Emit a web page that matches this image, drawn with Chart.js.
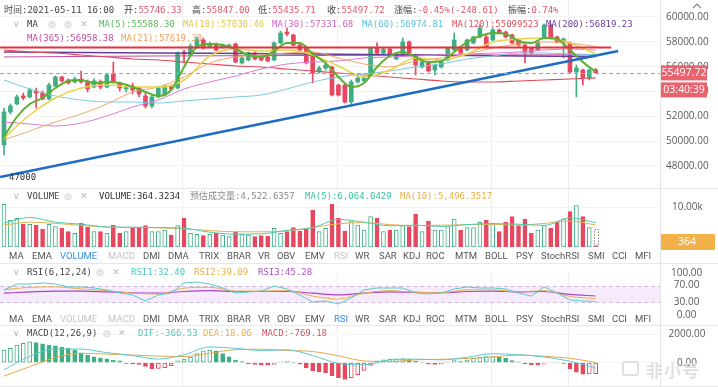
<!DOCTYPE html>
<html lang="zh-CN">
<head>
<meta charset="UTF-8">
<meta name="viewport" content="width=device-width, initial-scale=1.0">
<title>BTC 1H K线</title>
<script src="https://cdn.jsdelivr.net/npm/chart.js"></script>
<style>
  body { margin: 0; background: #fff; }
  #wrap { position: relative; width: 718px; height: 387px; overflow: hidden; background: #fff; }
  canvas { position: absolute; left: 0; }
  .t { position: absolute; white-space: nowrap; font: 9px "DejaVu Sans Mono", "Noto Sans CJK SC", monospace; line-height: 12px; color: #444; }
  .ic { position: absolute; font: 9px "DejaVu Sans", sans-serif; line-height: 12px; color: #b8b8b8; }
  .red { color: #e0566a; }
  .btn { position: absolute; font: 9.5px Roboto, sans-serif; line-height: 12px; color: #555; white-space: nowrap; }
  .btn.on { color: #3a8ee6; }
  .btn.off { color: #c4c4c4; }
  .hl { position: absolute; left: 0; width: 718px; height: 1px; background: #e8e8e8; }
  .vl { position: absolute; left: 660px; top: 0; width: 1px; height: 387px; background: #e3e3e3; }
  .wm { position: absolute; left: 646px; top: 357px; font: bold 17px "Noto Sans CJK SC", sans-serif; color: #e0e0e0; letter-spacing: 1px; }
  .logo { position: absolute; left: 622px; top: 361px; width: 17px; height: 15px; border: 2px solid #e0e0e0; border-radius: 3px; box-sizing: border-box; }
</style>
</head>
<body>
<div id="wrap">
  <canvas id="cMain" width="718" height="188" style="top:0"></canvas>
  <canvas id="cVol" width="718" height="75" style="top:188px"></canvas>
  <canvas id="cRsi" width="718" height="62" style="top:263px"></canvas>
  <canvas id="cMacd" width="718" height="62" style="top:325px"></canvas>

  <div class="hl" style="top:188px"></div>
  <div class="hl" style="top:263px"></div>
  <div class="hl" style="top:325px"></div>
  <div class="hl" style="top:386px"></div>
  <div class="vl"></div>

  <!-- main header -->
  <span class="t" style="left:4px;top:4px">时间:2021-05-11 16:00</span>
  <span class="t" style="left:124px;top:4px">开:<span class="red">55746.33</span></span>
  <span class="t" style="left:192px;top:4px">高:<span class="red">55847.00</span></span>
  <span class="t" style="left:258px;top:4px">低:<span class="red">55435.71</span></span>
  <span class="t" style="left:327px;top:4px">收:<span class="red">55497.72</span></span>
  <span class="t" style="left:394px;top:4px">涨幅:<span class="red">-0.45%(-248.61)</span></span>
  <span class="t" style="left:508px;top:4px">振幅:<span class="red">0.74%</span></span>

  <span class="ic" style="left:13px;top:18px">∨</span>
  <span class="t" style="left:27px;top:18px">MA</span>
  <span class="ic" style="left:48px;top:18px">◎</span>
  <span class="ic" style="left:64px;top:18px">◎</span>
  <span class="ic" style="left:80px;top:18px">✕</span>
  <span class="t" style="left:99px;top:18px;color:#5cb85c">MA(5):55588.30</span>
  <span class="t" style="left:183px;top:18px;color:#e2c84a">MA(10):57030.46</span>
  <span class="t" style="left:272px;top:18px;color:#d367c9">MA(30):57331.68</span>
  <span class="t" style="left:362px;top:18px;color:#5bc0de">MA(60):56974.81</span>
  <span class="t" style="left:452px;top:18px;color:#e05060">MA(120):55099523</span>
  <span class="t" style="left:546px;top:18px;color:#6a3d9a">MA(200):56819.23</span>
  <span class="t" style="left:27px;top:32px;color:#c04d9c">MA(365):56958.38</span>
  <span class="t" style="left:121px;top:32px;color:#f0a060">MA(21):57619.30</span>
  <span class="t" style="left:9px;top:171px;color:#333">47000</span>

  <!-- volume header -->
  <span class="ic" style="left:13px;top:190px">∨</span>
  <span class="t" style="left:27px;top:190px">VOLUME</span>
  <span class="ic" style="left:64px;top:190px">◎</span>
  <span class="ic" style="left:80px;top:190px">✕</span>
  <span class="t" style="left:99px;top:190px;color:#333">VOLUME:364.3234</span>
  <span class="t" style="left:190px;top:190px;color:#8a8a8a">预估成交量:4,522.6357</span>
  <span class="t" style="left:305px;top:190px;color:#3cc4a4">MA(5):6,064.0429</span>
  <span class="t" style="left:400px;top:190px;color:#e8b04a">MA(10):5,496.3517</span>

  <div id="rowA"></div>

  <!-- rsi header -->
  <span class="ic" style="left:13px;top:266px">∨</span>
  <span class="t" style="left:27px;top:266px">RSI(6,12,24)</span>
  <span class="ic" style="left:96px;top:266px">◎</span>
  <span class="ic" style="left:112px;top:266px">✕</span>
  <span class="t" style="left:131px;top:266px;color:#4ec8c0">RSI1:32.40</span>
  <span class="t" style="left:194px;top:266px;color:#e8b04a">RSI2:39.09</span>
  <span class="t" style="left:258px;top:266px;color:#b04cc8">RSI3:45.28</span>

  <div id="rowB"></div>

  <!-- macd header -->
  <span class="ic" style="left:13px;top:327px">∨</span>
  <span class="t" style="left:27px;top:327px">MACD(12,26,9)</span>
  <span class="ic" style="left:103px;top:327px">◎</span>
  <span class="ic" style="left:118px;top:327px">✕</span>
  <span class="t" style="left:138px;top:327px;color:#4ec8c0">DIF:-366.53</span>
  <span class="t" style="left:203px;top:327px;color:#e8b04a">DEA:18.06</span>
  <span class="t" style="left:262px;top:327px;color:#e05060">MACD:-769.18</span>

  <svg style="position:absolute;left:690px;top:1px" width="14" height="10"><polyline points="3,7 7,3 11,7" fill="none" stroke="#888" stroke-width="1.2"/></svg>
  <div class="logo"></div>
  <div class="wm">非小号</div>
</div>

<script>
// ---- candles (1h) ----
var opens = [49690, 52350, 52990, 53640, 53560, 54040, 53880, 53400, 54440, 55170,
  54930, 54770, 55010, 54770, 54360, 54770, 54360, 55410, 54680, 54200,
  54440, 54280, 53640, 52830, 53560, 53720, 54360, 54280, 57180, 56940,
  57580, 58150, 57580, 57740, 57580, 57660, 57830, 56300, 56540, 57100,
  56780, 56780, 56540, 57910, 58790, 58550, 57740, 57500, 57100, 55570,
  55890, 55970, 54520, 54520, 53150, 54770, 54850, 55330, 57500, 57100,
  57420, 56620, 56940, 57990, 56940, 55970, 56380, 55730, 55970, 56540,
  57340, 57580, 57340, 57910, 58390, 58390, 58150, 58950, 58790, 58550,
  58150, 57740, 57500, 57340, 58310, 59360, 58390, 57990, 57910, 55570,
  55730, 55090, 55746.33];
var highs = [52670, 52990, 53720, 53880, 54280, 54280, 54040, 54680, 55250, 55250,
  55010, 55170, 55650, 54930, 55010, 54930, 55410, 56380, 54770, 54440,
  54680, 54360, 53880, 53720, 54440, 54520, 54520, 57180, 57340, 57830,
  58390, 58310, 57990, 57910, 57830, 57830, 57910, 56780, 57180, 57180,
  56860, 56860, 57990, 58870, 59110, 58630, 57830, 57660, 57180, 56050,
  56300, 56050, 54600, 54600, 54930, 55250, 55170, 57580, 57910, 57500,
  57500, 57020, 58310, 58070, 57020, 56540, 56460, 56210, 56460, 57580,
  58710, 57660, 58230, 58470, 59360, 58550, 59110, 59030, 58870, 58630,
  58230, 57830, 57580, 58070, 59440, 59440, 58470, 58310, 57990, 56130,
  55810, 55810, 55847.00];
var lows = [48890, 52190, 52910, 53320, 53480, 52670, 53320, 53320, 54360, 54770,
  54600, 54680, 54680, 53960, 54280, 54200, 54280, 54680, 54040, 53960,
  53800, 53560, 52670, 52670, 53480, 53640, 54120, 54200, 56300, 56860,
  57500, 57420, 57500, 57260, 57500, 57580, 56300, 56210, 56460, 56540,
  56460, 56380, 56460, 57830, 58470, 57660, 57260, 56210, 54680, 55490,
  55730, 53640, 53640, 53070, 52990, 54680, 54770, 55250, 57020, 57020,
  56860, 56540, 56860, 57020, 55330, 55890, 55570, 55330, 55890, 56460,
  57260, 57020, 57260, 57830, 58310, 57500, 58070, 58630, 58310, 57830,
  57660, 56300, 57020, 57260, 58230, 58230, 57910, 56700, 55490, 53560,
  54520, 54930, 55435.71];
var closes = [52350, 52830, 53560, 53480, 54120, 53880, 53400, 54520, 55170, 54850,
  54680, 55010, 54770, 54200, 54850, 54360, 55330, 54770, 54280, 54360,
  54120, 53800, 52830, 53560, 54280, 54360, 54200, 57100, 57020, 57660,
  58230, 57500, 57830, 57340, 57740, 57740, 56380, 56700, 57100, 56620,
  56540, 56460, 57910, 58710, 58630, 57740, 57340, 56300, 55490, 55890,
  56130, 53720, 53720, 53150, 54770, 55090, 55090, 57500, 57100, 57420,
  56940, 56940, 57990, 57100, 56130, 56380, 55650, 56130, 56380, 57500,
  58150, 57100, 58150, 58390, 59110, 57580, 58950, 58710, 58390, 57910,
  57740, 57100, 57100, 57990, 59360, 58310, 57990, 58230, 55570, 55890,
  55090, 55730, 55497.72];
var volumes = [10670, 6750, 7170, 5750, 5670, 5500, 4420, 5670, 5080, 4670,
  3830, 3420, 5920, 4920, 3830, 3830, 3420, 5500, 3420, 3830,
  4670, 4670, 5330, 3830, 3830, 4250, 3000, 5330, 7170, 3420,
  3170, 2830, 3170, 3420, 3000, 2580, 3830, 3170, 3000, 2580,
  2830, 2750, 4670, 3420, 3830, 4830, 4000, 4670, 9250, 3830,
  4670, 10670, 7170, 4000, 6330, 5500, 4250, 7580, 7170, 3830,
  4250, 4250, 5330, 5080, 8170, 3830, 6500, 4250, 4250, 5080,
  7000, 4250, 4830, 4830, 6170, 6670, 5920, 3830, 6170, 7580,
  5330, 7000, 3420, 4250, 5330, 4670, 6170, 7000, 8830, 10330,
  7580, 4830, 364.3234];
var predictedVol = 4522.6357;
var macdHist = [878, 995, 1228, 1345, 1462, 1404, 1310, 1228, 1170, 1077,
  995, 878, 690, 527, 410, 340, 269, 176, 129, -58,
  -60, -117, -257, -421, -400, -350, -200, 130, 250, 400,
  640, 830, 878, 830, 640, 410, 180, 70, -60, -120,
  -180, -180, -120, 60, 100, 30, -100, -370, -550, -650,
  -720, -900, -1050, -1170, -1050, -830, -540, -190, 130, 200,
  250, 270, 290, 250, 100, 50, -100, -120, -80, 60,
  150, 80, 180, 300, 380, 420, 430, 380, 300, 150,
  60, -60, -150, -180, -100, 30, 40, -50, -420, -655,
  -800, -780, -769.18];

// ---- indicator lines, sampled every 2 / 4 candles ----
var fineIdx = [0, 2, 4, 6, 8, 10, 12, 14, 16, 18, 20, 22, 24, 26, 28, 30, 32, 34, 36, 38, 40, 42, 44, 46,
  48, 50, 52, 54, 56, 58, 60, 62, 64, 66, 68, 70, 72, 74, 76, 78, 80, 82, 84, 86, 88, 90, 92];
var maIdx = [0, 4, 8, 12, 16, 20, 24, 28, 32, 36, 40, 44, 48, 52, 56, 60, 64, 68, 72, 76, 80, 84, 88, 92];
var slowIdx = [0, 24, 48, 72, 92];

var ma5 = [50335, 51946, 52993, 53476, 54281, 54845, 54926, 54684, 54765, 54684,
  54362, 53959, 53637, 54120, 55973, 57584, 57825, 57745, 57423, 56939,
  56778, 57261, 57906, 57906, 57020, 56295, 55167, 54362, 54684, 55973,
  56859, 57181, 56778, 56376, 56456, 57181, 57986, 58470, 58711, 58631,
  58067, 57906, 58308, 58228, 57342, 56376, 55588.30];
var ma10 = [50255, 52107, 53476, 54281, 54523, 54362, 54362, 54926, 56859, 57423, 57261, 57342,
  56939, 56053, 55167, 55731, 56698, 56537, 57020, 57986, 58228, 58308, 57906, 57030.46];
var ma21 = [50094, 50818, 51543, 52187, 52993, 53959, 54362, 55167, 56295, 56778, 56939, 57100,
  57181, 56698, 56214, 55973, 56456, 56698, 57020, 57503, 57825, 57986, 57906, 57619.30];
var ma30 = [51543, 51382, 51221, 51463, 52027, 52751, 53315, 54201, 54765, 55248, 55812, 56214,
  56376, 56456, 56698, 56778, 56859, 56939, 57020, 57100, 57181, 57342, 57423, 57331.68];
var ma60 = [54926, 54201, 53637, 53315, 53154, 53154, 53073, 53234, 53396, 53557, 53718, 54201,
  54765, 55167, 55409, 55651, 55973, 56214, 56617, 56859, 57100, 57100, 57020, 56974.81];
var ma120 = [57342, 57181, 57100, 56939, 56778, 56617, 56537, 56376, 56214, 56053, 55973, 55812,
  55651, 55490, 55328, 55167, 55006, 54845, 54765, 54765, 54845, 54926, 55006, 55099.52];
var ma200 = [57180, 57100, 57020, 56900, 56819.23];
var ma365 = [56780, 56860, 56900, 56940, 56958.38];

var volMa5 = [6000, 7400, 6200, 5700, 5000, 4950, 4850, 4700, 3700, 3200, 3300, 4150,
  4800, 6900, 6200, 5300, 5450, 5150, 5600, 5850, 5700, 5400, 7300, 6064.0429];
var volMa10 = [5500, 6200, 5900, 5400, 5000, 4900, 4800, 4500, 4100, 3800, 3800, 4000,
  4900, 5800, 6100, 5600, 5350, 5450, 5550, 5650, 5500, 5900, 6500, 5496.3517];

var rsi1 = [59.5, 73.8, 73.8, 76.2, 73.8, 66.7, 66.7, 64.3, 59.5, 52.4,
  47.6, 33.3, 47.6, 52.4, 76.2, 78.6, 73.8, 64.3, 52.4, 54.8,
  57.1, 69.0, 61.9, 47.6, 31.0, 33.3, 26.2, 40.5, 59.5, 64.3,
  64.3, 64.3, 52.4, 50.0, 52.4, 61.9, 66.7, 64.3, 64.3, 61.9,
  52.4, 45.2, 66.7, 52.4, 35.7, 33.3, 32.40];
var rsi2 = [60, 66, 67, 62, 58, 52, 50, 64, 66, 57, 57, 58, 45, 38, 52, 58, 54, 53, 60, 60, 55, 58, 44, 39.09];
var rsi3 = [52, 55, 57, 57, 55, 53, 52, 56, 58, 56, 56, 56, 52, 48, 52, 55, 54, 53, 56, 57, 55, 56, 49, 45.28];

var dif = [-500, 450, 950, 950, 700, 500, 250, 560, 1100, 1000, 850, 900,
  500, -50, -150, 200, 250, 200, 380, 620, 560, 400, 100, -366.53];
var dea = [-940, -280, 365, 650, 600, 530, 460, 430, 660, 910, 940, 850,
  780, 480, 120, 75, 200, 240, 290, 405, 530, 450, 310, 18.06];

// drawn objects: support line and rising trend line
var levelIdx = [-0.6, 94.4];
var levelPrice = 57540;
var trendIdx = [-0.6, 95.5];
var trendPrice = [47110, 57260];
var countdown = '03:40:39';

// time grid lines (candle index)
var gridIdx = [27.8, 51.8, 75.8, 87.8];

// indicator switch rows under the volume and RSI panes
var btnNames = ['MA', 'EMA', 'VOLUME', 'MACD', 'DMI', 'DMA', 'TRIX', 'BRAR', 'VR', 'OBV', 'EMV', 'RSI',
  'WR', 'SAR', 'KDJ', 'ROC', 'MTM', 'BOLL', 'PSY', 'StochRSI', 'SMI', 'CCI', 'MFI'];
var btnLeft = [9, 32, 60, 108, 143, 168, 199, 227, 258, 277, 305, 334, 355, 379, 403, 426, 455, 485, 516, 541, 588, 612, 635];

function buildRow(id, top, on, off) {
  var row = document.getElementById(id);
  btnNames.forEach(function (name, i) {
    var s = document.createElement('span');
    s.className = 'btn' + (name === on ? ' on' : '') + (off.indexOf(name) >= 0 ? ' off' : '');
    s.style.left = btnLeft[i] + 'px';
    s.style.top = top + 'px';
    s.textContent = name;
    row.appendChild(s);
  });
}
buildRow('rowA', 250, 'VOLUME', ['MACD', 'RSI']);
buildRow('rowB', 312.5, 'RSI', ['VOLUME', 'MACD']);

var GREEN = '#3fae84', RED = '#e5485f';
var N = closes.length;
var idx = closes.map(function (_, i) { return i; });
var up = idx.map(function (i) { return closes[i] >= opens[i]; });
var candleColor = up.map(function (u) { return u ? GREEN : RED; });

function pts(xs, ys) {
  return xs.map(function (x, i) { return { x: x, y: ys[i] }; });
}
function line(xs, ys, color, width, order, extra) {
  var ds = {
    type: 'line', data: pts(xs, ys), borderColor: color, borderWidth: width,
    pointRadius: 0, fill: false, cubicInterpolationMode: 'monotone', order: order
  };
  for (var k in extra || {}) ds[k] = extra[k];
  return ds;
}

function xScale() {
  return {
    type: 'linear', min: -0.62, max: 102, offset: false, position: 'bottom',
    ticks: { display: false },
    grid: { color: '#eeeeee', drawTicks: false, offset: false },
    border: { display: false },
    afterBuildTicks: function (s) { s.ticks = gridIdx.map(function (v) { return { value: v }; }); },
    afterFit: function (s) { s.height = 0; s.paddingLeft = 0; s.paddingRight = 0; }
  };
}
function yScale(min, max, tickVals, fmt, pad, gridColor) {
  return {
    type: 'linear', position: 'right', min: min, max: max,
    ticks: {
      color: '#5a5a5a', font: { family: 'Open Sans', size: 10 }, padding: pad,
      crossAlign: 'center', autoSkip: false, callback: fmt
    },
    grid: { color: gridColor || '#f3f3f3', drawTicks: false, display: !!gridColor },
    border: { display: false },
    afterBuildTicks: function (s) { s.ticks = tickVals.map(function (v) { return { value: v }; }); },
    afterFit: function (s) { s.width = 58; s.paddingTop = 0; s.paddingBottom = 0; }
  };
}
function baseOptions(x, y, padding) {
  return {
    responsive: false, animation: false, devicePixelRatio: 1, events: [],
    layout: { padding: padding || 0 },
    plugins: { legend: { display: false }, tooltip: { enabled: false } },
    scales: { x: x, y: y }
  };
}
function fix2(v) { return Number(v).toFixed(2); }

// ---- main price panel ----
var priceTag = {
  id: 'priceTag',
  afterDatasetsDraw: function (chart) {
    var ctx = chart.ctx, a = chart.chartArea;
    var py = Math.round(chart.scales.y.getPixelForValue(closes[N - 1])) + 0.5;
    ctx.save();
    ctx.setLineDash([4, 3]);
    ctx.strokeStyle = '#ec8090';
    ctx.lineWidth = 1;
    ctx.beginPath(); ctx.moveTo(a.left, py); ctx.lineTo(a.right, py); ctx.stroke();
    ctx.restore();
  },
  afterDraw: function (chart) {
    var ctx = chart.ctx, a = chart.chartArea;
    var py = chart.scales.y.getPixelForValue(closes[N - 1]);
    ctx.save();
    ctx.fillStyle = '#e9636f';
    ctx.fillRect(a.right, py - 7.5, 47, 15);
    ctx.fillRect(a.right, py + 9.5, 47, 15);
    ctx.fillStyle = '#fff';
    ctx.font = '10.5px "Open Sans"';
    ctx.textAlign = 'center';
    ctx.textBaseline = 'middle';
    ctx.fillText(closes[N - 1].toFixed(2), a.right + 24, py + 0.5);
    ctx.fillText(countdown, a.right + 24, py + 17.5);
    ctx.restore();
  }
};

new Chart(document.getElementById('cMain'), {
  type: 'line',
  data: {
    datasets: [
      { type: 'bar', data: idx.map(function (i) { return { x: i, y: [lows[i], highs[i]] }; }),
        backgroundColor: candleColor, barThickness: 1, grouped: false, order: 30 },
      { type: 'bar', data: idx.map(function (i) { return { x: i, y: [opens[i], closes[i]] }; }),
        backgroundColor: candleColor, barThickness: 4, grouped: false, minBarLength: 1, order: 29 },
      line(slowIdx, ma365, '#c04d9c', 1, 12),
      line(slowIdx, ma200, '#6a3d9a', 1.5, 11),
      line(maIdx, ma120, '#e04a5a', 1.2, 10),
      line(maIdx, ma60, '#7cc8e0', 1, 9),
      line(maIdx, ma30, '#e07ad6', 1, 8),
      line(maIdx, ma21, '#f2a66c', 1, 7),
      line(maIdx, ma10, '#e8d44c', 1.5, 6),
      line(fineIdx, ma5, '#5cb030', 2, 5),
      line(levelIdx, [levelPrice, levelPrice], '#e8303a', 2, 2, { cubicInterpolationMode: 'default', tension: 0 }),
      line(trendIdx, trendPrice, '#1f6cc4', 2.5, 1, { cubicInterpolationMode: 'default', tension: 0 })
    ]
  },
  options: baseOptions(xScale(),
    yScale(46227, 61369, [48000, 50000, 52000, 54000, 56000, 58000, 60000], fix2, 6, '#f3f3f3')),
  plugins: [priceTag]
});

// ---- volume panel ----
var volTag = {
  id: 'volTag',
  afterDatasetsDraw: function (chart) {
    var ctx = chart.ctx, xs = chart.scales.x, ys = chart.scales.y;
    var px = xs.getPixelForValue(N - 1);
    var top = ys.getPixelForValue(predictedVol), bot = ys.getPixelForValue(0);
    ctx.save();
    ctx.setLineDash([1.5, 1.5]);
    ctx.strokeStyle = '#8a8a8a';
    ctx.lineWidth = 1;
    ctx.strokeRect(Math.round(px - 2) + 0.5, Math.round(top) + 0.5, 4, Math.round(bot - top) - 1);
    ctx.restore();
  },
  afterDraw: function (chart) {
    var ctx = chart.ctx, a = chart.chartArea;
    var py = Math.min(chart.scales.y.getPixelForValue(volumes[N - 1]), a.bottom - 5);
    ctx.save();
    ctx.fillStyle = '#f3b249';
    ctx.fillRect(a.right, py - 8, 55, 16);
    ctx.fillStyle = '#fff';
    ctx.font = '10.5px "Open Sans"';
    ctx.textAlign = 'center';
    ctx.textBaseline = 'middle';
    ctx.fillText(Math.round(volumes[N - 1]), a.right + 27, py + 0.5);
    ctx.restore();
  }
};

new Chart(document.getElementById('cVol'), {
  type: 'line',
  data: {
    datasets: [
      { type: 'bar', data: idx.map(function (i) { return { x: i, y: volumes[i] }; }),
        backgroundColor: up.map(function (u) { return u ? '#ffffff' : RED; }),
        borderColor: candleColor, borderWidth: 1, borderSkipped: false,
        barThickness: 4, grouped: false, order: 10 },
      line(maIdx, volMa10, '#e8b04a', 1, 2),
      line(maIdx, volMa5, '#4fcab0', 1, 1)
    ]
  },
  options: baseOptions(xScale(),
    yScale(0, 14750, [10000], function (v) { return (v / 1000).toFixed(2) + 'k'; }, 12, '#f3f3f3'),
    { top: 0, bottom: 16, left: 0, right: 0 }),
  plugins: [volTag]
});

// ---- RSI panel ----
var rsiBand = {
  id: 'rsiBand',
  beforeDatasetsDraw: function (chart) {
    var ctx = chart.ctx, a = chart.chartArea, ys = chart.scales.y;
    var y70 = Math.round(ys.getPixelForValue(70)) + 0.5, y30 = Math.round(ys.getPixelForValue(30)) + 0.5;
    ctx.save();
    ctx.fillStyle = '#f6ebfc';
    ctx.fillRect(a.left, y70, a.right - a.left, y30 - y70);
    ctx.setLineDash([4, 3]);
    ctx.strokeStyle = '#cdbad8';
    ctx.lineWidth = 1;
    ctx.beginPath();
    ctx.moveTo(a.left, y70); ctx.lineTo(a.right, y70);
    ctx.moveTo(a.left, y30); ctx.lineTo(a.right, y30);
    ctx.stroke();
    ctx.restore();
  }
};

new Chart(document.getElementById('cRsi'), {
  type: 'line',
  data: {
    datasets: [
      line(maIdx, rsi3, '#a944c4', 1.2, 3),
      line(maIdx, rsi2, '#e8b050', 1, 2),
      line(fineIdx, rsi1, '#5cc8c8', 1, 1, { cubicInterpolationMode: 'default', tension: 0 })
    ]
  },
  options: baseOptions(xScale(), yScale(0, 100, [0, 30, 70, 100], fix2, 11),
    { top: 10, bottom: 10, left: 0, right: 0 }),
  plugins: [rsiBand]
});

// ---- MACD panel ----
var macdColor = macdHist.map(function (v) { return v >= 0 ? GREEN : RED; });
var macdFill = macdHist.map(function (v, i) {
  var rising = i === 0 || v > macdHist[i - 1];
  return rising ? '#ffffff' : (v >= 0 ? GREEN : RED);
});

new Chart(document.getElementById('cMacd'), {
  type: 'line',
  data: {
    datasets: [
      { type: 'bar', data: idx.map(function (i) { return { x: i, y: macdHist[i] }; }),
        backgroundColor: macdFill, borderColor: macdColor, borderWidth: 1, borderSkipped: false,
        barThickness: 4, grouped: false, order: 10 },
      line(maIdx, dea, '#e8a848', 1, 2),
      line(maIdx, dif, '#5cc8d0', 1, 1)
    ]
  },
  options: baseOptions(xScale(), yScale(-1694, 2628, [0, 2000], fix2, 8.5, '#f6f6f6'))
});
</script>
</body>
</html>
